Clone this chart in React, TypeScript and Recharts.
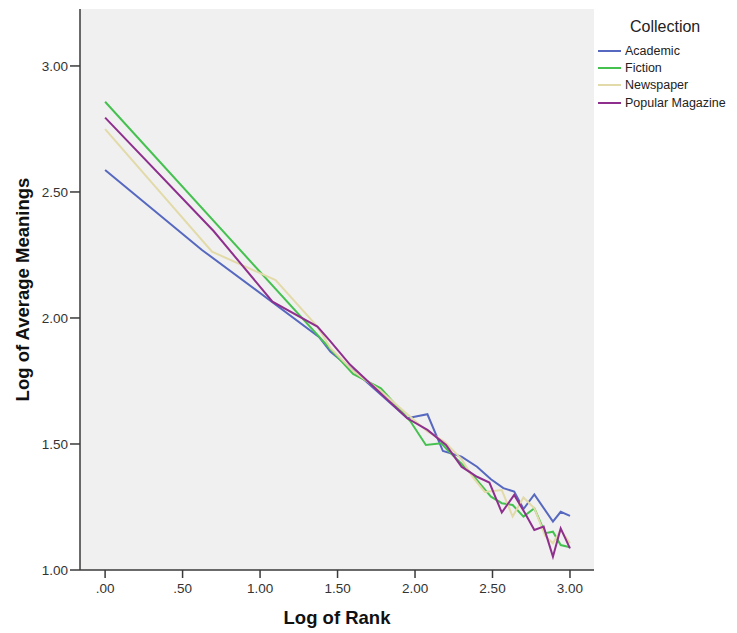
import { LineChart, Line, XAxis, YAxis, CartesianGrid } from 'recharts';

// log rank / log average meanings
const academicRank = [0, 0.625, 1.38, 1.455, 1.65, 1.95, 2.08, 2.18, 2.3, 2.4, 2.49, 2.57, 2.64, 2.7, 2.77, 2.89, 2.94, 3.0];
const academicMeanings = [2.587, 2.27, 1.925, 1.866, 1.767, 1.602, 1.618, 1.472, 1.45, 1.41, 1.36, 1.325, 1.311, 1.242, 1.3, 1.192, 1.231, 1.215];

const fictionRank = [0, 1.6, 1.78, 1.97, 2.07, 2.17, 2.21, 2.36, 2.49, 2.56, 2.63, 2.7, 2.77, 2.84, 2.89, 2.94, 3.0];
const fictionMeanings = [2.858, 1.778, 1.721, 1.59, 1.496, 1.503, 1.476, 1.385, 1.291, 1.265, 1.258, 1.212, 1.245, 1.146, 1.152, 1.099, 1.09];

const newspaperRank = [0, 0.69, 1.1, 1.37, 1.455, 1.6, 1.78, 1.9, 2.08, 2.19, 2.3, 2.37, 2.45, 2.56, 2.63, 2.7, 2.77, 2.84, 2.89, 2.94, 3.0];
const newspaperMeanings = [2.749, 2.263, 2.15, 1.966, 1.88, 1.79, 1.71, 1.645, 1.55, 1.509, 1.44, 1.37, 1.31, 1.317, 1.212, 1.288, 1.245, 1.135, 1.106, 1.159, 1.106];

const magazineRank = [0, 0.7, 1.08, 1.37, 1.45, 1.58, 1.95, 2.08, 2.2, 2.3, 2.4, 2.48, 2.56, 2.64, 2.71, 2.77, 2.83, 2.89, 2.94, 3.0];
const magazineMeanings = [2.795, 2.345, 2.065, 1.966, 1.91, 1.815, 1.602, 1.556, 1.496, 1.41, 1.37, 1.347, 1.228, 1.298, 1.225, 1.159, 1.172, 1.053, 1.165, 1.086];

const xTicks = [0, 0.5, 1, 1.5, 2, 2.5, 3];
const yTicks = [1, 1.5, 2, 2.5, 3];

const FONT = '"Liberation Sans", Arial, sans-serif';
const FRAME = '#3a3a3a';

const series = [
  { name: 'Academic', color: '#5668c0', rank: academicRank, meanings: academicMeanings },
  { name: 'Fiction', color: '#45c150', rank: fictionRank, meanings: fictionMeanings },
  { name: 'Newspaper', color: '#e2daa8', rank: newspaperRank, meanings: newspaperMeanings },
  { name: 'Popular Magazine', color: '#8e2f8e', rank: magazineRank, meanings: magazineMeanings },
];

const toPoints = (rank: number[], meanings: number[]) =>
  rank.map((x, i) => ({ x, y: meanings[i] }));

const fmt = (v: number) => v.toFixed(2).replace(/^0/, '');

function XTitle({ viewBox }: any) {
  return (
    <text
      x={viewBox.x + viewBox.width / 2}
      y={viewBox.y + 54}
      textAnchor="middle"
      fontSize={18.5}
      fontWeight="bold"
      fill="#111"
    >
      Log of Rank
    </text>
  );
}

function YTitle({ viewBox }: any) {
  const cx = viewBox.x + 29;
  const cy = viewBox.y + viewBox.height / 2;
  return (
    <text
      x={cx}
      y={cy}
      transform={`rotate(-90, ${cx}, ${cy})`}
      textAnchor="middle"
      fontSize={18.5}
      fontWeight="bold"
      fill="#111"
    >
      Log of Average Meanings
    </text>
  );
}

export default function App() {
  return (
    <div style={{ position: 'absolute', left: 0, top: 0, width: 737, height: 633, background: '#fff', fontFamily: FONT }}>
      <LineChart width={737} height={633} margin={{ top: 9, right: 143, left: 0, bottom: 0 }} style={{ fontFamily: FONT }}>
        <CartesianGrid fill="#f0f0f0" horizontal={false} vertical={false} />
        <XAxis
          type="number"
          dataKey="x"
          domain={[-0.162, 3.155]}
          allowDataOverflow
          ticks={xTicks}
          tickFormatter={fmt}
          height={63}
          tickSize={8}
          tickMargin={5}
          stroke={FRAME}
          strokeWidth={1.5}
          tick={{ fill: '#333', fontSize: 13.5 }}
          label={<XTitle />}
        />
        <XAxis xAxisId="top" orientation="top" type="number" domain={[0, 1]} tick={false} tickLine={false} height={0} stroke={FRAME} strokeWidth={1.5} />
        <YAxis
          type="number"
          domain={[1, 3.226]}
          allowDataOverflow
          ticks={yTicks}
          tickFormatter={fmt}
          width={80}
          tickSize={10}
          tickMargin={2}
          stroke={FRAME}
          strokeWidth={1.5}
          tick={{ fill: '#333', fontSize: 13.5 }}
          label={<YTitle />}
        />
        <YAxis yAxisId="right" orientation="right" type="number" domain={[0, 1]} tick={false} tickLine={false} width={0} stroke={FRAME} strokeWidth={1.5} />
        {series.map((s) => (
          <Line
            key={s.name}
            data={toPoints(s.rank, s.meanings)}
            dataKey="y"
            name={s.name}
            stroke={s.color}
            strokeWidth={2}
            dot={false}
            activeDot={false}
            isAnimationActive={false}
          />
        ))}
      </LineChart>
      <div style={{ position: 'absolute', left: 598, top: 15, width: 139, color: '#222' }}>
        <div style={{ fontSize: 16, lineHeight: '24px', paddingLeft: 32, marginBottom: 3 }}>Collection</div>
        {series.map((s) => (
          <div key={s.name} style={{ display: 'flex', alignItems: 'center', height: 17.3, fontSize: 12.5 }}>
            <span style={{ display: 'inline-block', width: 23, height: 2, background: s.color, marginRight: 4 }} />
            {s.name}
          </div>
        ))}
      </div>
    </div>
  );
}
